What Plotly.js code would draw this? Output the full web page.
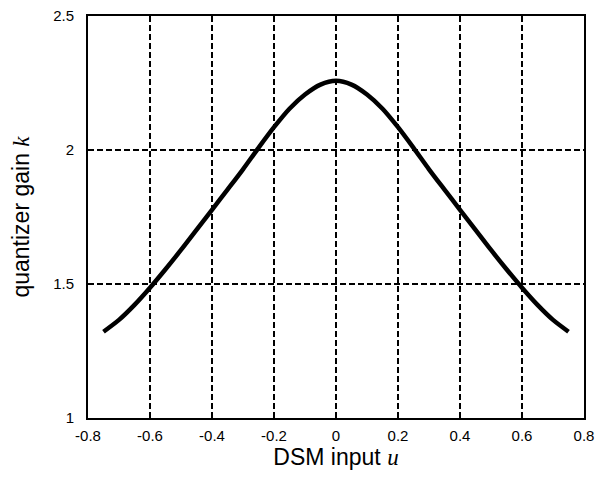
<!DOCTYPE html>
<html>
<head>
<meta charset="utf-8">
<script src="https://cdn.plot.ly/plotly-3.0.1.min.js"></script>
<style>html,body{margin:0;padding:0;background:#fff;}</style>
</head>
<body>
<div id="chart" style="width:595px;height:477px;"></div>
<script>
const uValues = [-0.75,-0.70,-0.65,-0.60,-0.55,-0.50,-0.45,-0.40,-0.35,-0.30,-0.25,-0.20,-0.15,-0.10,-0.05,0,
                 0.05,0.10,0.15,0.20,0.25,0.30,0.35,0.40,0.45,0.50,0.55,0.60,0.65,0.70,0.75];
const kValues = [1.322,1.366,1.422,1.486,1.555,1.627,1.702,1.777,1.852,1.928,2.008,2.085,2.154,2.207,2.244,2.258,
                 2.244,2.207,2.154,2.085,2.008,1.928,1.852,1.777,1.702,1.627,1.555,1.486,1.422,1.366,1.322];
const xTickVals = [-0.8,-0.6,-0.4,-0.2,0,0.2,0.4,0.6,0.8];
const xTickText = ["-0.8","-0.6","-0.4","-0.2","0","0.2","0.4","0.6","0.8"];
const yTickVals = [1,1.5,2,2.5];
const yTickText = ["1","1.5","2","2.5"];

const trace = {
  x: uValues, y: kValues, type: 'scatter', mode: 'lines',
  line: {color: '#000', width: 4.5, shape: 'spline', smoothing: 0.8}
};
const axisCommon = {
  showline: true, linecolor: '#000', linewidth: 2, mirror: true,
  showgrid: true, gridcolor: '#000', gridwidth: 1.5, griddash: '6px,3px',
  zeroline: false, ticks: '', tickfont: {family: 'Liberation Sans, Arial, sans-serif', size: 15, color: '#000'}
};
const layout = {
  width: 595, height: 477,
  margin: {l: 88, r: 11, t: 16, b: 59},
  paper_bgcolor: '#fff', plot_bgcolor: '#fff',
  showlegend: false,
  xaxis: Object.assign({}, axisCommon, {
    range: [-0.8, 0.8], tickmode: 'array', tickvals: xTickVals, ticktext: xTickText,
    ticklabelstandoff: 3,
    title: {text: 'DSM input <span style="font-family:Liberation Serif, Times New Roman, serif;font-style:italic">u</span>',
            font: {family: 'Liberation Sans, Arial, sans-serif', size: 23, color: '#000'}, standoff: 2}
  }),
  yaxis: Object.assign({}, axisCommon, {
    range: [1, 2.5], tickmode: 'array', tickvals: yTickVals, ticktext: yTickText,
    ticklabelstandoff: 9,
    title: {text: 'quantizer gain <span style="font-family:Liberation Serif, Times New Roman, serif;font-style:italic">k</span>',
            font: {family: 'Liberation Sans, Arial, sans-serif', size: 23, color: '#000'}, standoff: 17}
  })
};
Plotly.newPlot('chart', [trace], layout, {displayModeBar: false, staticPlot: true});
</script>
</body>
</html>
